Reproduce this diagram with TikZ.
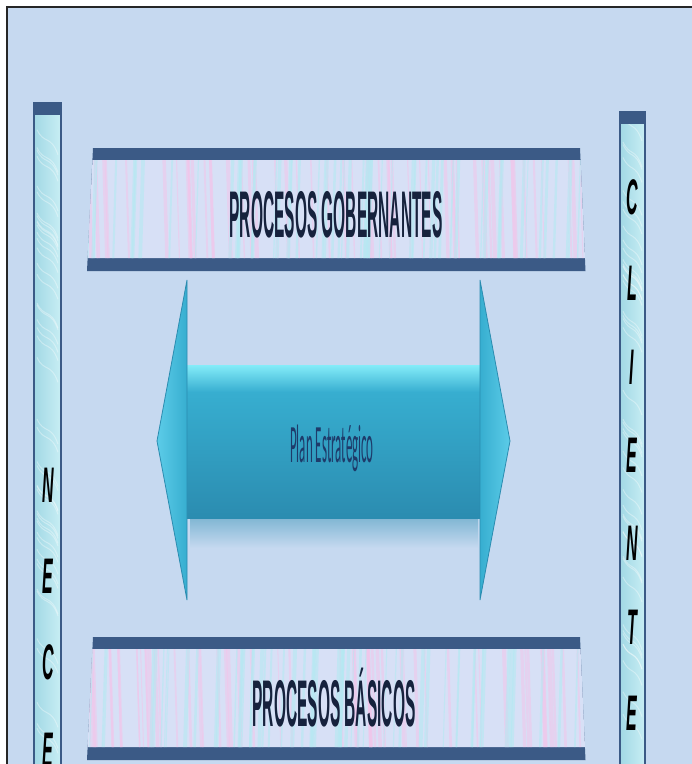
\documentclass[tikz,border=0pt]{standalone}
\usepackage{fontspec}
\setmainfont{Liberation Sans}
\newfontfamily\calfont{Carlito}
\usetikzlibrary{positioning}
\definecolor{bgblue}{HTML}{C6D9F0}
\definecolor{navy}{HTML}{3B5A86}
\definecolor{inkblue}{HTML}{16223D}
\definecolor{planink}{HTML}{1E3B6A}
\definecolor{paleband}{HTML}{D7E0F6}
\definecolor{barleft}{HTML}{A2D8E5}
\definecolor{barright}{HTML}{C8EEF4}
\definecolor{arrowmid}{HTML}{37AED0}
\definecolor{arrowtop}{HTML}{84ECF9}
\definecolor{arrowlow}{HTML}{2B8CB0}
\definecolor{headlight}{HTML}{5CCCE8}
\definecolor{streakpink}{HTML}{F2C6EA}
\definecolor{streakcyan}{HTML}{B2EAF2}

\tikzset{
  bannertext/.style={inner sep=0pt, text=inkblue, font=\bfseries\fontsize{66}{66}\selectfont},
  barletter/.style={inner sep=0pt, text=black, font=\bfseries\itshape\fontsize{50}{50}\selectfont},
  plantext/.style={inner sep=0pt, text=planink, font=\calfont\fontsize{54}{54}\selectfont},
  band/.style={fill=navy},
  baredge/.style={draw=navy, line width=2pt},
}

\begin{document}
\begin{tikzpicture}[x=1pt,y=-1pt]
  \useasboundingbox (0,0) rectangle (692,764);
  \clip (0,0) rectangle (692,764);
  \fill[white] (0,0) rectangle (692,764);
  \fill[bgblue] (7,7) rectangle (692,764);
  \draw[line width=2pt, black!85] (7,764) -- (7,7) -- (692,7);

  \pgfmathsetseed{11}
  \foreach \xa/\xb/\yt in {34/61/103, 620/645/112}{
    \shade[left color=barleft, right color=barright] (\xa,\yt) rectangle (\xb,770);
    \foreach \k in {1,...,45}{
      \pgfmathsetmacro\sy{\yt+660*rnd}
      \draw[white, opacity=.35, line width=1pt] (\xa+3,\sy) .. controls (\xa+10,\sy+15) and (\xb-10,\sy+5) .. (\xb-3,\sy+25);
    }
    \draw[baredge] (\xa,\yt) rectangle (\xb,770);
    \fill[band] (\xa-1,\yt) rectangle (\xb+1,\yt+12);
  }

  \foreach \y/\l [count=\i] in {485/N, 576/E, 662/C, 750/E}
    \node[barletter] (nec-\i) at (48,\y) {\scalebox{.32}[1]{\l}};
  \foreach \y/\l [count=\i] in {197/C, 283/L, 367/I, 455/E, 543/N, 627/T, 713/E}
    \node[barletter] (cli-\i) at (632,\y) {\scalebox{.32}[1]{\l}};

  \foreach \t in {148, 637}{
    \fill[band] (93,\t) -- (580,\t) -- (585.5,\t+123) -- (87,\t+123) -- cycle;
    \begin{scope}
      \clip (92.5,\t+12) -- (580.5,\t+12) -- (585,\t+110) -- (87.5,\t+110) -- cycle;
      \fill[paleband] (80,\t) rectangle (600,\t+123);
      \foreach \k in {1,...,55}{
        \pgfmathsetmacro\sx{88+497*rnd}
        \pgfmathsetmacro\sw{1+3*rnd}
        \draw[streakpink, opacity=.55, line width=\sw pt] (\sx,\t+10) -- (\sx+3,\t+112);
      }
      \foreach \k in {1,...,55}{
        \pgfmathsetmacro\sx{88+497*rnd}
        \pgfmathsetmacro\sw{1+3*rnd}
        \draw[streakcyan, opacity=.55, line width=\sw pt] (\sx,\t+10) -- (\sx-3,\t+112);
      }
    \end{scope}
  }
  \node[bannertext, anchor=base] (gob) at (336,237) {\scalebox{.235}[1]{PROCESOS GOBERNANTES}};
  \node[bannertext, anchor=base] (bas) at (334,726) {\scalebox{.235}[1]{PROCESOS BÁSICOS}};

  \shade[top color=arrowlow!45!bgblue, bottom color=bgblue] (190,518) rectangle (478,548);
  \shade[top color=arrowtop, bottom color=arrowmid] (187,365) rectangle (480,392);
  \shade[top color=arrowmid, bottom color=arrowlow] (187,392) rectangle (480,518);
  \shade[left color=headlight, right color=arrowmid, draw=arrowlow, line width=.8pt] (187,280) -- (157,441) -- (187,600) -- cycle;
  \shade[left color=arrowmid, right color=headlight, draw=arrowlow, line width=.8pt] (480,280) -- (510,441) -- (480,600) -- cycle;
  \node[plantext, anchor=base] (plan) at (332,462) {\scalebox{.24}[1]{Plan Estratégico}};
\end{tikzpicture}
\end{document}
